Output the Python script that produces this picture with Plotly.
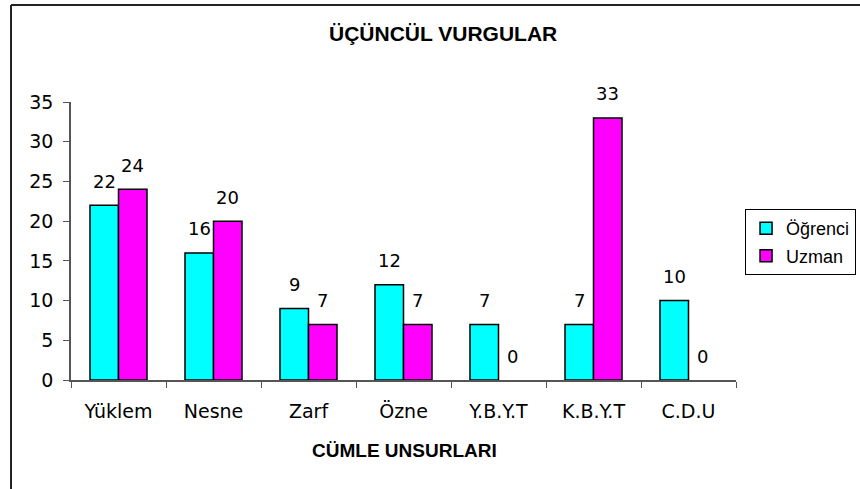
import plotly.graph_objects as go

categories = ["Yüklem", "Nesne", "Zarf", "Özne", "Y.B.Y.T", "K.B.Y.T", "C.D.U"]
ogrenci = [22, 16, 9, 12, 7, 7, 10]
uzman = [24, 20, 7, 7, 0, 33, 0]
series_names = ["Öğrenci", "Uzman"]
y_ticks = [0, 5, 10, 15, 20, 25, 30, 35]

FONT = "DejaVu Sans"
BOLD = "Liberation Sans"


def outline_widths(vals):
    return [1.5 if v > 0 else 0 for v in vals]


fig = go.Figure()
fig.add_trace(go.Bar(name=series_names[0], x=categories, y=ogrenci, legendgroup="a",
                     marker=dict(color="#00FFFF", line=dict(color="#000000", width=outline_widths(ogrenci)))))
fig.add_trace(go.Bar(name=series_names[1], x=categories, y=uzman, legendgroup="b",
                     marker=dict(color="#FF00FF", line=dict(color="#000000", width=outline_widths(uzman)))))

annotations = []
for vals, shift in ((ogrenci, -14.25), (uzman, 14.25)):
    for c, v in zip(categories, vals):
        annotations.append(dict(x=c, y=v, xref="x", yref="y", text=str(v), showarrow=False,
                                xshift=shift, yshift=24, yanchor="middle", xanchor="center",
                                font=dict(family=FONT, size=18, color="#000000")))

annotations.append(dict(x=0.559, y=1.248, xref="paper", yref="paper", text="<b>ÜÇÜNCÜL VURGULAR</b>",
                        showarrow=False, xanchor="center", yanchor="middle",
                        font=dict(family=BOLD, size=21, color="#000000")))
annotations.append(dict(x=0.5008, y=-0.2518, xref="paper", yref="paper", text="<b>CÜMLE UNSURLARI</b>",
                        showarrow=False, xanchor="center", yanchor="middle",
                        font=dict(family=BOLD, size=19, color="#000000")))

fig.update_layout(
    width=860, height=489,
    margin=dict(l=71, r=124, t=102, b=109, autoexpand=False),
    paper_bgcolor="white", plot_bgcolor="white",
    barmode="group", bargap=0.4, bargroupgap=0,
    font=dict(family=FONT, size=18, color="#000000"),
    showlegend=True,
    legend=dict(x=1.0136, y=0.615, xanchor="left", yanchor="top",
                bordercolor="#000000", borderwidth=1, bgcolor="white",
                font=dict(family=BOLD, size=18), itemwidth=30, tracegroupgap=1),
    annotations=annotations,
    shapes=[
        dict(type="line", xref="paper", yref="paper", x0=-0.0902, x1=-0.0902, y0=-0.5, y1=1.3489,
             line=dict(color="#222222", width=2)),
        dict(type="line", xref="paper", yref="paper", x0=-0.0902, x1=1.3, y0=1.3489, y1=1.3489,
             line=dict(color="#222222", width=2)),
    ],
)
fig.update_xaxes(showline=True, linecolor="#555555", linewidth=1.5, ticks="outside", ticklen=6,
                 tickcolor="#555555", tickson="boundaries", showgrid=False, zeroline=False,
                 ticklabelstandoff=13, tickfont=dict(family=FONT, size=19))
fig.update_yaxes(range=[0, 35], tickvals=y_ticks, showline=True, linecolor="#555555", linewidth=1.5,
                 ticks="outside", ticklen=6, tickcolor="#555555", showgrid=False, zeroline=False,
                 ticklabelstandoff=6, tickfont=dict(family=FONT, size=19))

fig.write_html("out.html", config={"displayModeBar": False},
               post_script="document.body.style.margin='0';")
